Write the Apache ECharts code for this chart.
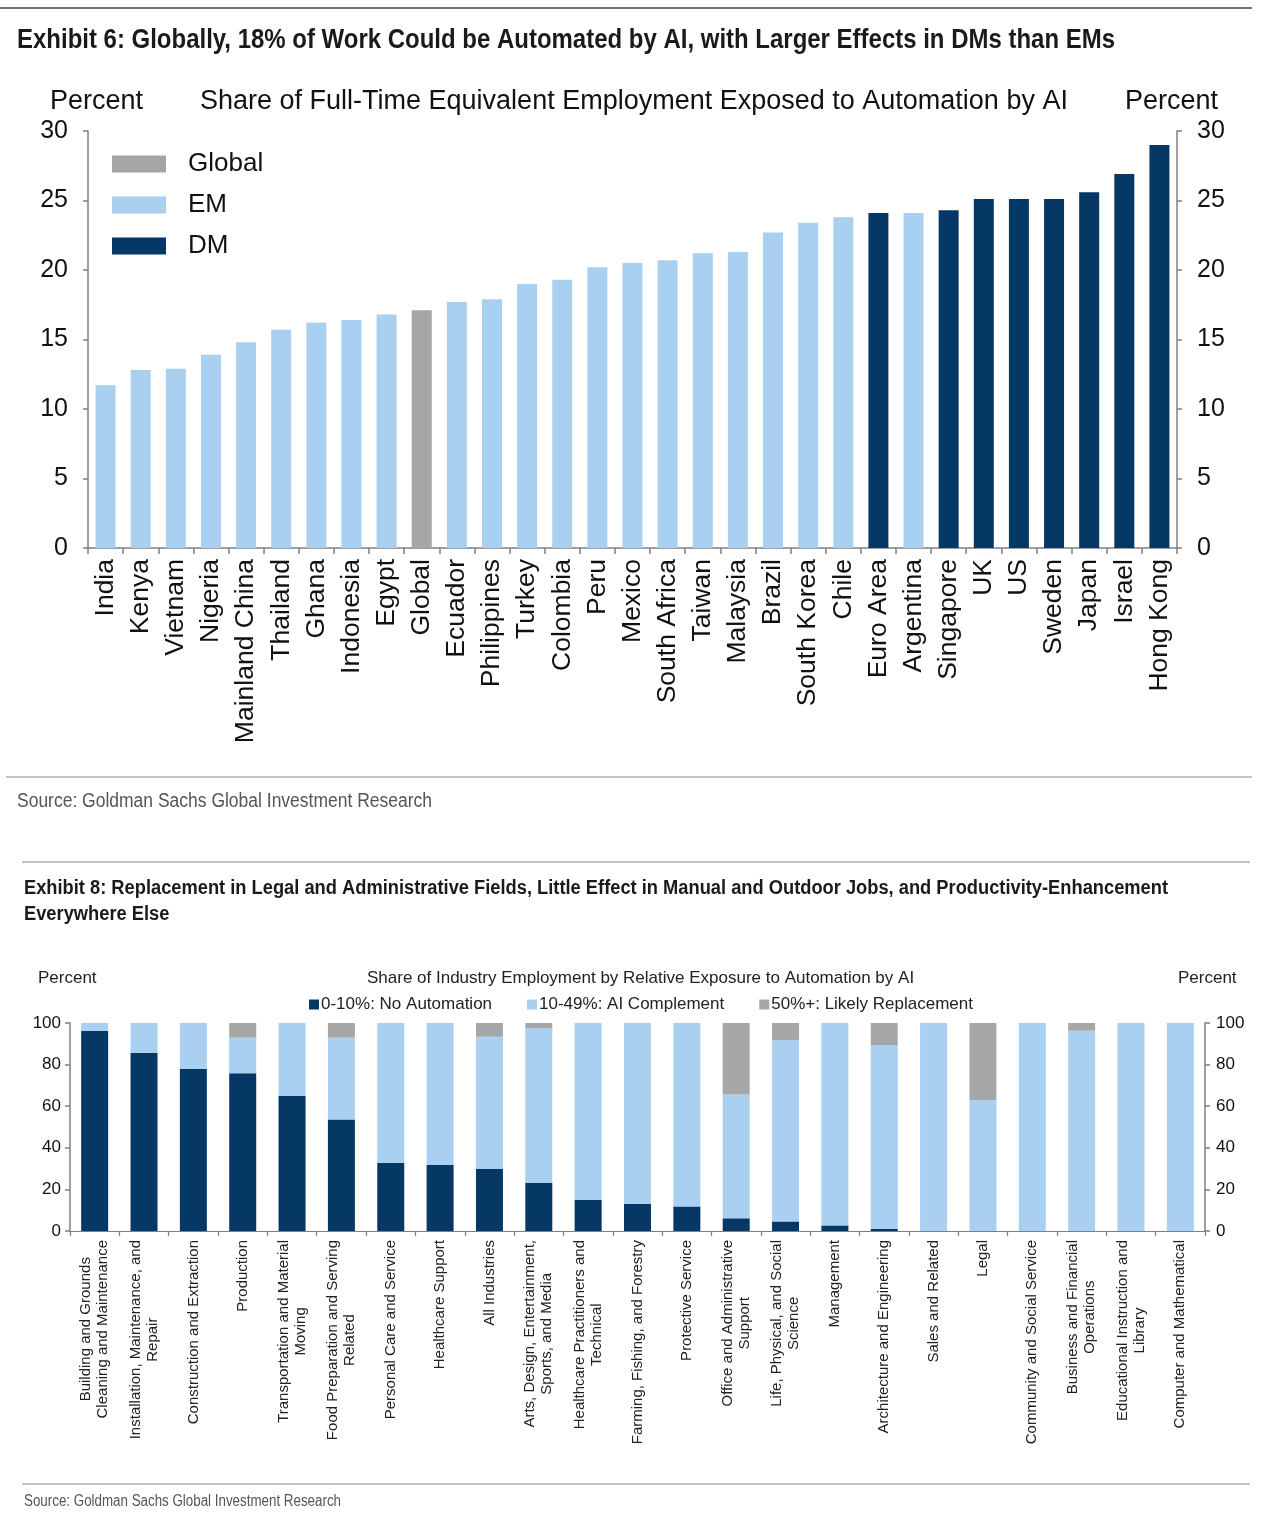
<!DOCTYPE html>
<html>
<head>
<meta charset="utf-8">
<script src="https://cdn.jsdelivr.net/npm/echarts@6/dist/echarts.min.js"></script>
<style>
html,body{margin:0;padding:0;background:#fff;}
#chart{width:1280px;height:1517px;}
</style>
</head>
<body>
<div id="chart"></div>
<script>
// ---------- Exhibit 6 data ----------
const countries = ['India','Kenya','Vietnam','Nigeria','Mainland China','Thailand','Ghana','Indonesia','Egypt','Global','Ecuador','Philippines','Turkey','Colombia','Peru','Mexico','South Africa','Taiwan','Malaysia','Brazil','South Korea','Chile','Euro Area','Argentina','Singapore','UK','US','Sweden','Japan','Israel','Hong Kong'];
const exposure = [11.7,12.8,12.9,13.9,14.8,15.7,16.2,16.4,16.8,17.1,17.7,17.9,19.0,19.3,20.2,20.5,20.7,21.2,21.3,22.7,23.4,23.8,24.1,24.1,24.3,25.1,25.1,25.1,25.6,26.9,29.0];
const groups = ['EM','EM','EM','EM','EM','EM','EM','EM','EM','Global','EM','EM','EM','EM','EM','EM','EM','EM','EM','EM','EM','EM','DM','EM','DM','DM','DM','DM','DM','DM','DM'];
const topTicks = [0,5,10,15,20,25,30];

// ---------- Exhibit 8 data ----------
const industries = [
 'Building and Grounds\nCleaning and Maintenance',
 'Installation, Maintenance, and\nRepair',
 'Construction and Extraction',
 'Production',
 'Transportation and Material\nMoving',
 'Food Preparation and Serving\nRelated',
 'Personal Care and Service',
 'Healthcare Support',
 'All Industries',
 'Arts, Design, Entertainment,\nSports, and Media',
 'Healthcare Practitioners and\nTechnical',
 'Farming, Fishing, and Forestry',
 'Protective Service',
 'Office and Administrative\nSupport',
 'Life, Physical, and Social\nScience',
 'Management',
 'Architecture and Engineering',
 'Sales and Related',
 'Legal',
 'Community and Social Service',
 'Business and Financial\nOperations',
 'Educational Instruction and\nLibrary',
 'Computer and Mathematical'
];
const noAutomation = [96.3,85.6,77.9,75.8,65.0,53.6,32.8,31.7,29.8,23.2,14.9,13.1,11.8,6.1,4.6,2.7,1.1,0,0,0,0,0,0];
const aiComplement = [3.7,14.4,22.1,17.2,35.0,39.4,67.2,68.3,63.6,74.4,85.1,86.9,88.2,59.5,87.1,97.3,88.3,100,62.9,100,96.3,100,100];
const likelyReplacement = [0,0,0,7.0,0,7.0,0,0,6.6,2.4,0,0,0,34.4,8.3,0,10.6,0,37.1,0,3.7,0,0];
const bottomTicks = [0,20,40,60,80,100];

const title6 = 'Exhibit 6: Globally, 18% of Work Could be Automated by AI, with Larger Effects in DMs than EMs';
const title8a = 'Exhibit 8: Replacement in Legal and Administrative Fields, Little Effect in Manual and Outdoor Jobs, and Productivity-Enhancement';
const title8b = 'Everywhere Else';
const sourceText = 'Source: Goldman Sachs Global Investment Research';

const NAVY = '#063866';
const LIGHT = '#A9D0F0';
const GRAY = '#A6A6A6';
const AXIS = '#7f7f7f';
const FONT = '"Liberation Sans", Arial, sans-serif';

// narrow-looking headline text: Liberation Sans squeezed horizontally
const measureCtx = document.createElement('canvas').getContext('2d');
function squeeze(text, font, targetWidth){
  measureCtx.font = font;
  return targetWidth / measureCtx.measureText(text).width;
}
const f6 = 'bold 27px "Liberation Sans"';
const f8 = 'bold 20px "Liberation Sans"';
const fs1 = '20px "Liberation Sans"';
const fs2 = '16px "Liberation Sans"';
const s6 = squeeze(title6, f6, 1098);
const s8 = squeeze(title8a, f8, 1144);
const ss1 = squeeze(sourceText, fs1, 415);
const ss2 = squeeze(sourceText, fs2, 317);

function gText(text, x, y, font, sx, fill){
  return {type:'text', x:x, y:y, scaleX:sx, scaleY:1, originX:0, originY:0,
    style:{text:text, font:font, fill:fill, textVerticalAlign:'middle', verticalAlign:'middle', textAlign:'left', align:'left'}};
}

function groupData(g){ return exposure.map((v,i)=> groups[i]===g ? v : '-'); }

const chart = echarts.init(document.getElementById('chart'), null, {renderer:'canvas'});

function yAxisCfg(grid, pos, ticks, fs, margin){
  return {
    type:'value', gridIndex:grid, position:pos,
    min:ticks[0], max:ticks[ticks.length-1], interval:ticks[1]-ticks[0],
    axisLine:{show:true, lineStyle:{color:AXIS, width:1.5}},
    axisTick:{show:true, inside:false, length:5, lineStyle:{color:AXIS, width:1.5}},
    splitLine:{show:false},
    axisLabel:{fontFamily:FONT, fontSize:fs, color:'#111', margin:margin}
  };
}

const option = {
  animation:false,
  backgroundColor:'#fff',
  title:[
    {text:'Percent', left:50, top:88, padding:0, textStyle:{fontFamily:FONT, fontWeight:'normal', fontSize:27, color:'#111'}},
    {text:'Share of Full-Time Equivalent Employment Exposed to Automation by AI', left:200, top:88, padding:0, textStyle:{fontFamily:FONT, fontWeight:'normal', fontSize:27, color:'#111'}},
    {text:'Percent', left:1125, top:88, padding:0, textStyle:{fontFamily:FONT, fontWeight:'normal', fontSize:27, color:'#111'}},
    {text:'Percent', left:38, top:970, padding:0, textStyle:{fontFamily:FONT, fontWeight:'normal', fontSize:17, color:'#222'}},
    {text:'Share of Industry Employment by Relative Exposure to Automation by AI', left:367, top:970, padding:0, textStyle:{fontFamily:FONT, fontWeight:'normal', fontSize:17, color:'#222'}},
    {text:'Percent', left:1178, top:970, padding:0, textStyle:{fontFamily:FONT, fontWeight:'normal', fontSize:17, color:'#222'}}
  ],
  graphic:[
    {type:'line', shape:{x1:0,y1:8,x2:1252,y2:8}, style:{stroke:'#444', lineWidth:1.5}},
    {type:'line', shape:{x1:6,y1:777,x2:1252,y2:777}, style:{stroke:'#888', lineWidth:1.2}},
    {type:'line', shape:{x1:22,y1:862,x2:1250,y2:862}, style:{stroke:'#888', lineWidth:1.2}},
    {type:'line', shape:{x1:22,y1:1484,x2:1250,y2:1484}, style:{stroke:'#888', lineWidth:1.2}},
    gText(title6, 17, 41, f6, s6, '#1a1a1a'),
    gText(sourceText, 17, 801, fs1, ss1, '#555'),
    gText(title8a, 24, 888, f8, s8, '#1a1a1a'),
    gText(title8b, 24, 914, f8, s8, '#1a1a1a'),
    gText(sourceText, 24, 1502, fs2, ss2, '#555')
  ],
  legend:[
    {data:['Global','EM','DM'], orient:'vertical', left:112, top:151, padding:0, itemWidth:54, itemHeight:17, itemGap:15,
     icon:'rect', selectedMode:false,
     textStyle:{fontFamily:FONT, fontSize:26, color:'#111', padding:[0,0,0,17]}},
    {data:['0-10%: No Automation','10-49%: AI Complement','50%+: Likely Replacement'], orient:'horizontal', left:309, top:996, padding:0,
     itemWidth:10, itemHeight:10, itemGap:35, icon:'rect', selectedMode:false,
     textStyle:{fontFamily:FONT, fontSize:17, color:'#222', padding:[0,0,0,-3]}}
  ],
  grid:[
    {left:88, right:103, top:131, bottom:969, containLabel:false},
    {left:70, right:75, top:1023, bottom:286, containLabel:false}
  ],
  xAxis:[
    {type:'category', gridIndex:0, data:countries,
     axisLine:{show:true, lineStyle:{color:AXIS, width:1.5}},
     axisTick:{show:true, length:6, lineStyle:{color:AXIS, width:1.5}},
     axisLabel:{rotate:90, interval:0, fontFamily:FONT, fontSize:26.5, color:'#111', margin:11}},
    {type:'category', gridIndex:1, data:industries,
     axisLine:{show:true, lineStyle:{color:AXIS, width:1.2}},
     axisTick:{show:true, length:5, lineStyle:{color:AXIS, width:1.2}},
     axisLabel:{rotate:90, interval:0, margin:9, fontFamily:FONT, fontSize:15, color:'#222',
       formatter:function(v){return v.split('\n').map(function(l){return '{c|'+l+'}';}).join('\n');},
       rich:{c:{align:'center', fontFamily:FONT, fontSize:15, color:'#222', lineHeight:17}}}}
  ],
  yAxis:[
    yAxisCfg(0,'left',topTicks,25,20),
    yAxisCfg(0,'right',topTicks,25,20),
    yAxisCfg(1,'left',bottomTicks,17,9),
    yAxisCfg(1,'right',bottomTicks,17,11)
  ],
  series:[
    {name:'Global', type:'bar', xAxisIndex:0, yAxisIndex:0, stack:'top', barWidth:20, data:groupData('Global'), itemStyle:{color:GRAY}},
    {name:'EM', type:'bar', xAxisIndex:0, yAxisIndex:0, stack:'top', barWidth:20, data:groupData('EM'), itemStyle:{color:LIGHT}},
    {name:'DM', type:'bar', xAxisIndex:0, yAxisIndex:0, stack:'top', barWidth:20, data:groupData('DM'), itemStyle:{color:NAVY}},
    {name:'0-10%: No Automation', type:'bar', xAxisIndex:1, yAxisIndex:2, stack:'bot', barWidth:27, data:noAutomation, itemStyle:{color:NAVY}},
    {name:'10-49%: AI Complement', type:'bar', xAxisIndex:1, yAxisIndex:2, stack:'bot', barWidth:27, data:aiComplement, itemStyle:{color:LIGHT}},
    {name:'50%+: Likely Replacement', type:'bar', xAxisIndex:1, yAxisIndex:2, stack:'bot', barWidth:27, data:likelyReplacement, itemStyle:{color:GRAY}}
  ]
};
chart.setOption(option);
</script>
</body>
</html>
